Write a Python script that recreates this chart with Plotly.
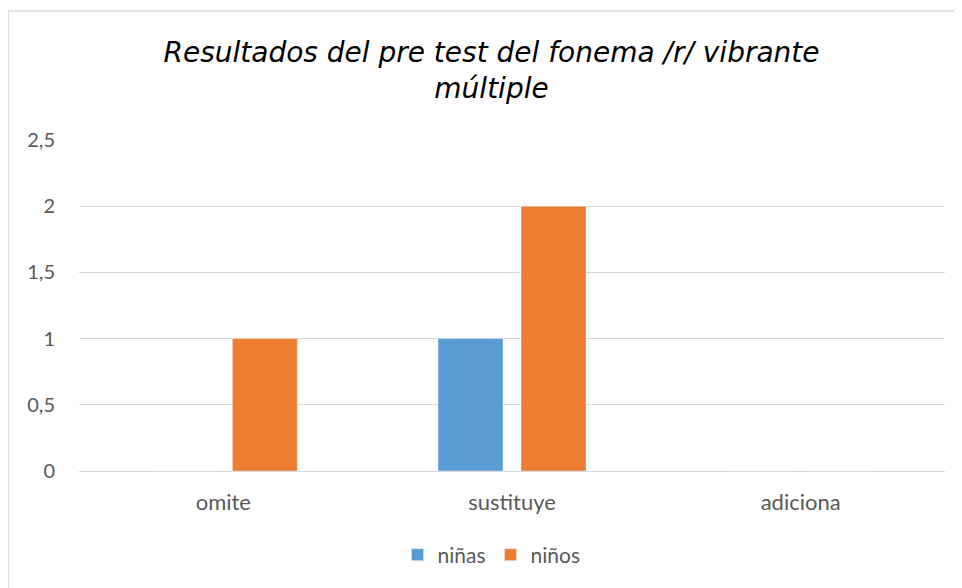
import plotly.graph_objects as go

categories = ["omite", "sustituye", "adiciona"]
ninas = [0, 1, 0]
ninos = [1, 2, 0]
series_names = ["niñas", "niños"]
title_text = "Resultados del pre test del fonema /r/ vibrante<br>múltiple"

# page has an 8px body margin; coordinates below are figure pixels
W, H = 954, 580
L, R, T, B = 71, 937, 132, 463
pw, ph = R - L, B - T

def px_x(p):
    return (p - L) / pw

def px_y(p):
    return (B - p) / ph

fig = go.Figure()
fig.add_trace(go.Bar(x=categories, y=ninas, name=series_names[0], marker_color="#5B9BD5"))
fig.add_trace(go.Bar(x=categories, y=ninos, name=series_names[1], marker_color="#ED7D31"))

fig.update_layout(
    width=W, height=H,
    margin=dict(l=L, r=W - R, t=T, b=H - B),
    paper_bgcolor="white", plot_bgcolor="white",
    barmode="group", bargap=0.425, bargroupgap=0.217,
    separators=", ",
    title=dict(text=title_text, xref="container", x=483.5 / W, xanchor="center",
               y=1 - 54 / H, yanchor="middle",
               font=dict(family="DejaVu Sans", size=28, color="#000000", style="italic")),
    legend=dict(orientation="h", x=(483.5 - L) / pw, xanchor="center", y=px_y(547), yanchor="middle",
                font=dict(family="Lato", size=21, color="#595959"), itemwidth=30,
                traceorder="normal"),
    font=dict(family="Lato", size=20, color="#595959"),
    shapes=[dict(type="rect", xref="paper", yref="paper",
                 x0=px_x(0), x1=px_x(1100), y0=px_y(700), y1=px_y(3),
                 line=dict(color="#d9d9d9", width=1.5), fillcolor="rgba(0,0,0,0)", layer="below")],
)
fig.update_yaxes(range=[0, 2.5], dtick=0.5, showgrid=True, gridcolor="#d9d9d9", gridwidth=1,
                 zeroline=True, zerolinecolor="#d9d9d9", zerolinewidth=1,
                 ticklabelstandoff=23, tickfont=dict(family="Lato", size=20, color="#595959"),
                 fixedrange=True)
fig.update_xaxes(showgrid=False, showline=False, ticklabelstandoff=16,
                 tickfont=dict(family="Lato", size=22, color="#595959"))

fig.write_html("out.html")
